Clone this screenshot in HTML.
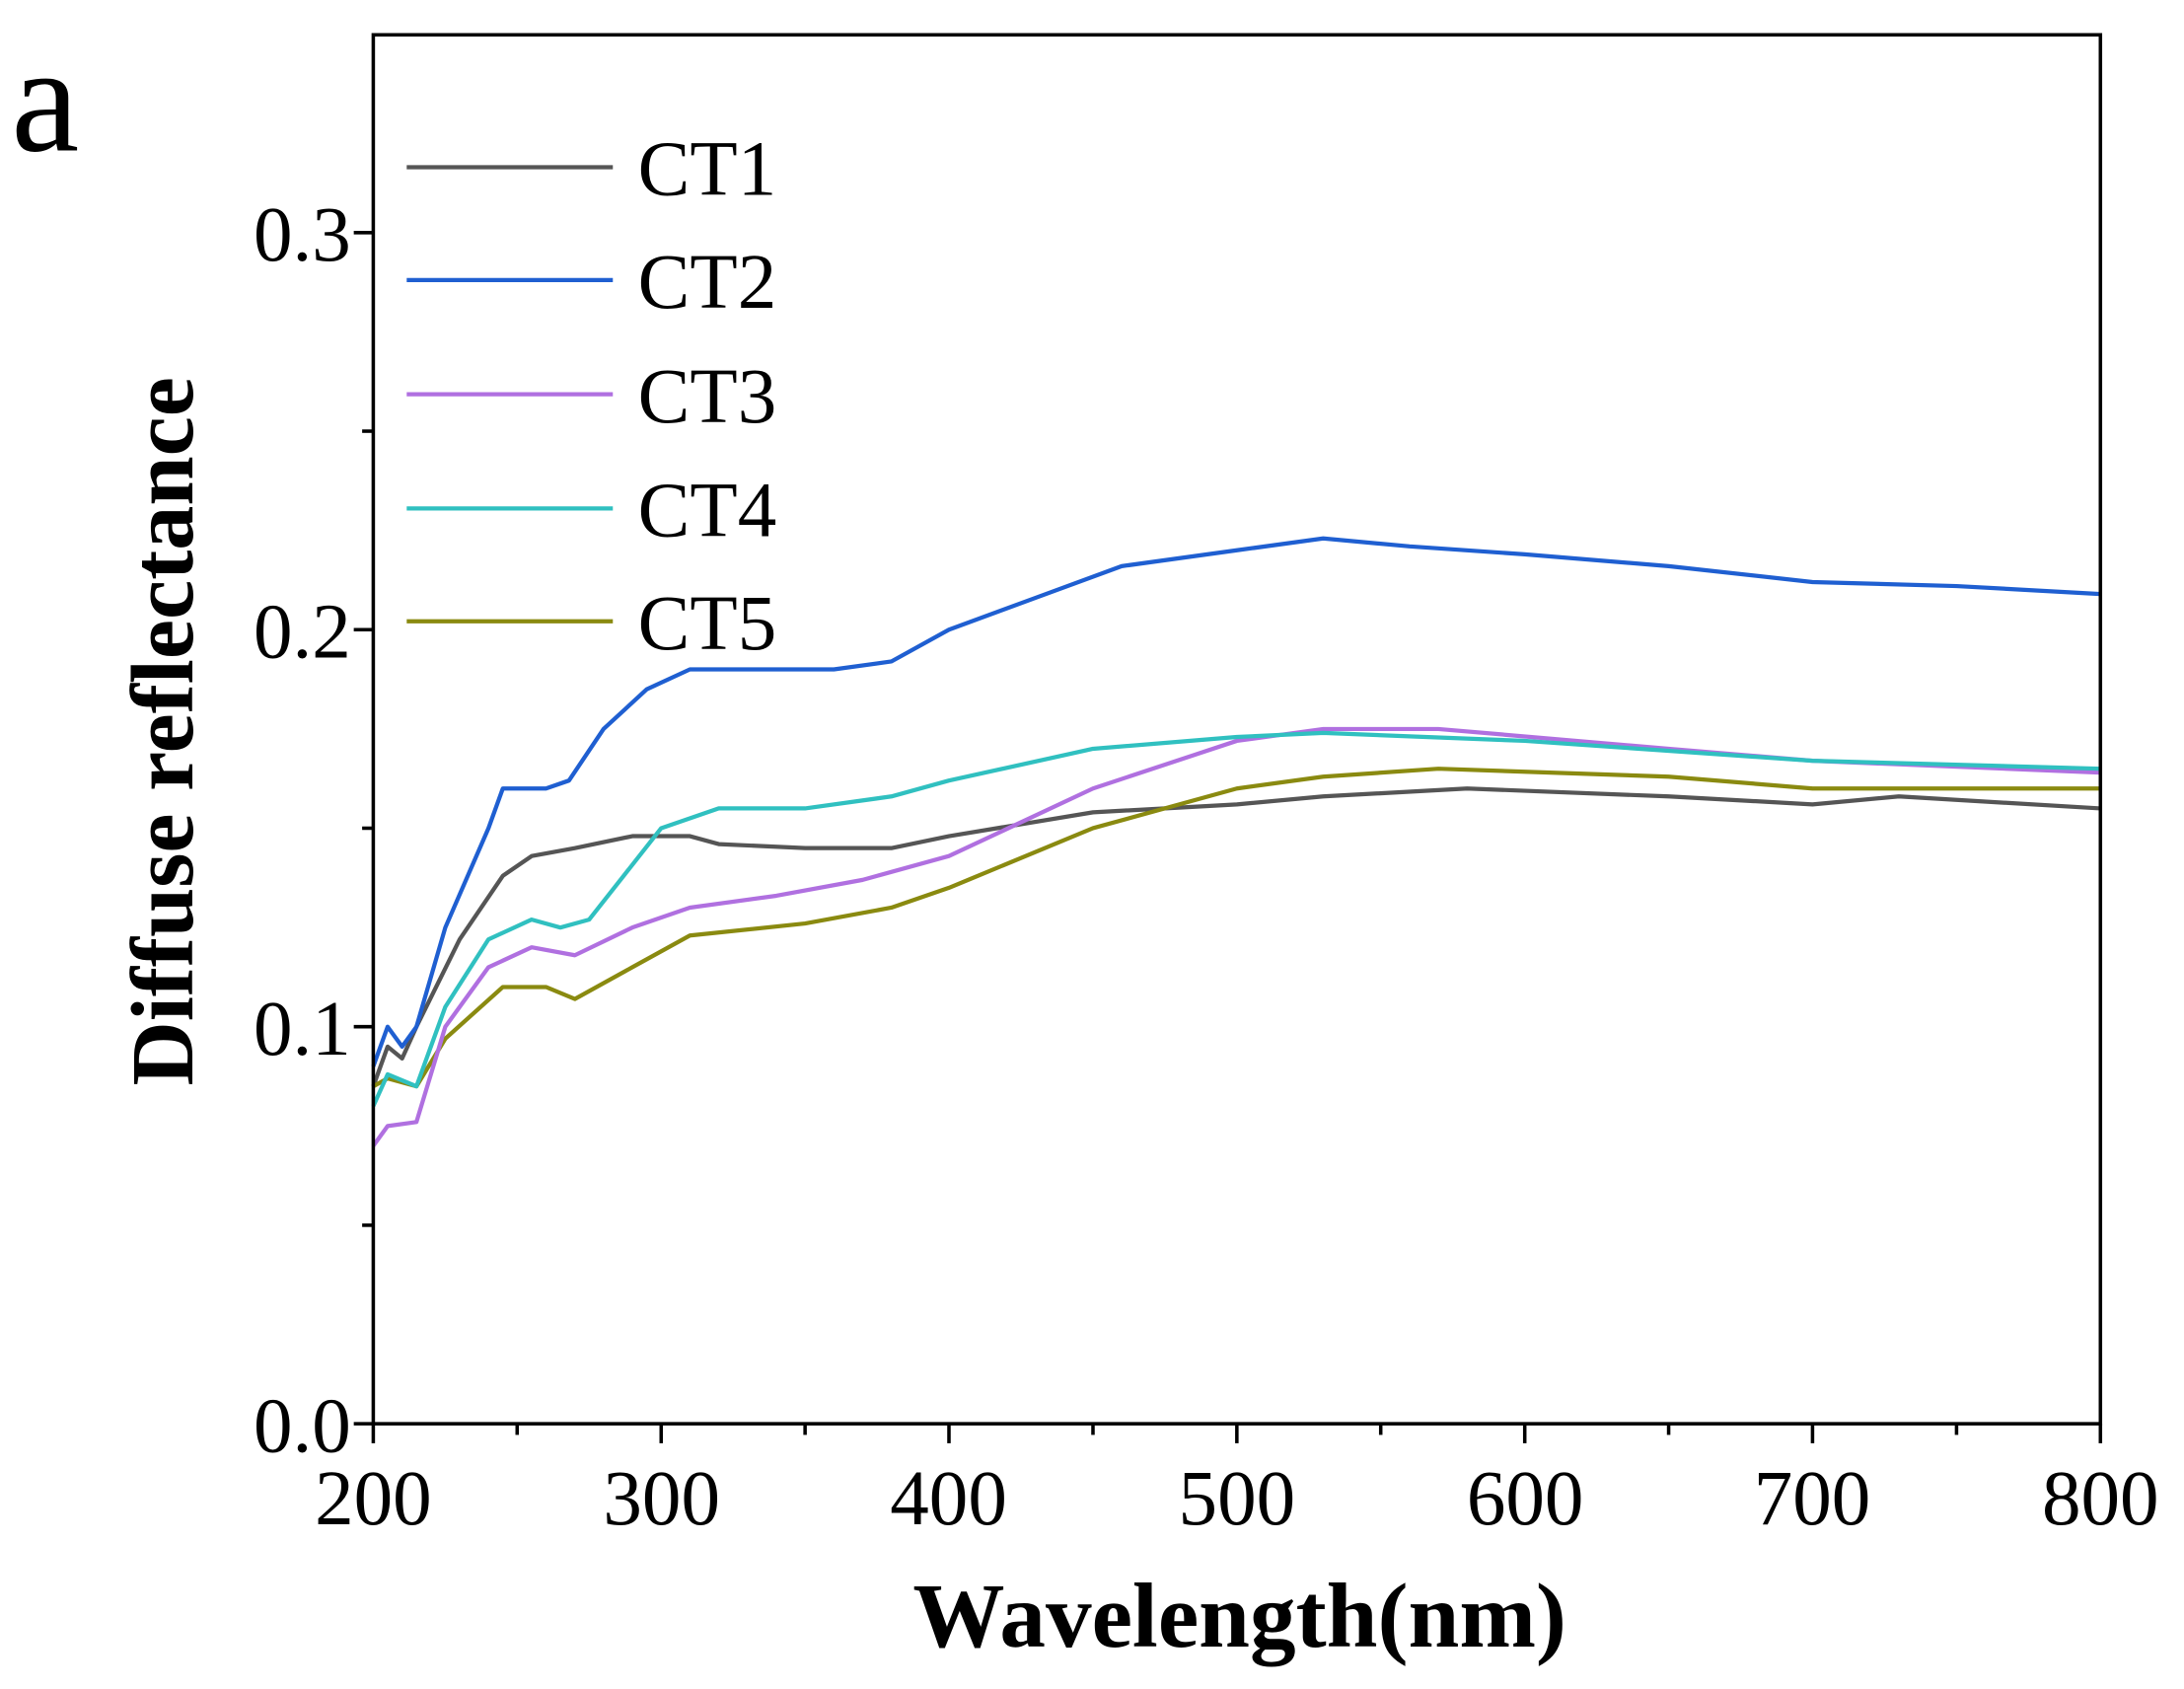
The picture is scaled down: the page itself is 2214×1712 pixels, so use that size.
<!DOCTYPE html>
<html><head><meta charset="utf-8"><style>html,body{margin:0;padding:0;background:#fff}svg{display:block}</style></head>
<body>
<svg width="2214" height="1712" viewBox="0 0 1568 1212.4" preserveAspectRatio="none" xmlns="http://www.w3.org/2000/svg" font-family="Liberation Serif, serif">
<rect width="1568" height="1212.4" fill="#fff"/>
<g fill="none" stroke-width="3" stroke-linejoin="round">
<polyline stroke="#555" points="268,779.8 278.3,751.3 288.7,759.8 299,737 330,674.3 361,628.7 381.7,614.5 412.7,608.8 454,600.2 495.3,600.2 516,605.9 578,608.8 640,608.8 681.3,600.2 784.7,583.1 888,577.4 950,571.7 1053.3,566 1198,571.7 1301.3,577.4 1363.3,571.7 1508,580.3"/>
<polyline stroke="#8a8a10" points="268,779.8 278.3,774.1 299,779.8 319.7,745.6 361,708.5 392,708.5 412.7,717.1 454,694.3 495.3,671.5 578,662.9 640,651.5 681.3,637.3 784.7,594.5 888,566 950,557.5 1032.7,551.8 1198,557.5 1301.3,566 1508,566"/>
<polyline stroke="#b070e0" points="268,822.5 278.3,808.3 299,805.4 319.7,737 350.7,694.3 381.7,680 412.7,685.7 454,665.8 495.3,651.5 557.3,643 619.3,631.6 681.3,614.5 784.7,566 888,531.8 950,523.3 1032.7,523.3 1198,537.5 1301.3,546.1 1508,554.6"/>
<polyline stroke="#30c0c0" points="268,794 278.3,771.2 299,779.8 319.7,722.8 350.7,674.3 381.7,660.1 402.3,665.8 423,660.1 474.7,594.5 516,580.3 578,580.3 640,571.7 681.3,560.3 784.7,537.5 888,529 950,526.1 1094.7,531.8 1301.3,546.1 1508,551.8"/>
<polyline stroke="#1f5fd1" points="268,765.5 278.3,737 288.7,751.3 299,737 319.7,665.8 350.7,594.5 361,566 392,566 408.5,560.3 433.3,523.3 464.3,494.8 495.3,480.5 536.7,480.5 598.7,480.5 640,474.8 681.3,452 743.3,429.2 805.3,406.4 888,395 950,386.5 1012,392.2 1094.7,397.9 1198,406.4 1301.3,417.8 1404.7,420.7 1508,426.4"/>
</g>
<rect x="268" y="25" width="1240" height="997" fill="none" stroke="#000" stroke-width="2.5"/>
<g stroke="#000" stroke-width="2.5">
<line x1="268" y1="1022" x2="268" y2="1036"/><line x1="371.3" y1="1022" x2="371.3" y2="1030"/>
<line x1="474.7" y1="1022" x2="474.7" y2="1036"/><line x1="578" y1="1022" x2="578" y2="1030"/>
<line x1="681.3" y1="1022" x2="681.3" y2="1036"/><line x1="784.7" y1="1022" x2="784.7" y2="1030"/>
<line x1="888" y1="1022" x2="888" y2="1036"/><line x1="991.3" y1="1022" x2="991.3" y2="1030"/>
<line x1="1094.7" y1="1022" x2="1094.7" y2="1036"/><line x1="1198" y1="1022" x2="1198" y2="1030"/>
<line x1="1301.3" y1="1022" x2="1301.3" y2="1036"/><line x1="1404.7" y1="1022" x2="1404.7" y2="1030"/>
<line x1="1508" y1="1022" x2="1508" y2="1036"/>
<line x1="254" y1="1022" x2="268" y2="1022"/><line x1="260" y1="879.5" x2="268" y2="879.5"/>
<line x1="254" y1="737" x2="268" y2="737"/><line x1="260" y1="594.5" x2="268" y2="594.5"/>
<line x1="254" y1="452" x2="268" y2="452"/><line x1="260" y1="309.5" x2="268" y2="309.5"/>
<line x1="254" y1="167" x2="268" y2="167"/>
</g>
<g font-size="56" text-anchor="end">
<text x="252" y="1042">0.0</text><text x="252" y="757">0.1</text><text x="252" y="472">0.2</text><text x="252" y="187">0.3</text>
</g>
<g font-size="56" text-anchor="middle">
<text x="268" y="1094">200</text><text x="475" y="1094">300</text><text x="681" y="1094">400</text><text x="888" y="1094">500</text><text x="1095" y="1094">600</text><text x="1301" y="1094">700</text><text x="1508" y="1094">800</text>
</g>
<text x="890" y="1182" font-size="66" font-weight="bold" text-anchor="middle">Wavelength(nm)</text>
<text transform="translate(138,525) rotate(-90)" font-size="64" font-weight="bold" text-anchor="middle">Diffuse reflectance</text>
<text x="8" y="108" font-size="110">a</text>
<g font-size="56">
<line x1="292" y1="120" x2="440" y2="120" stroke="#555" stroke-width="3"/><text x="458" y="140">CT1</text>
<line x1="292" y1="201" x2="440" y2="201" stroke="#1f5fd1" stroke-width="3"/><text x="458" y="221">CT2</text>
<line x1="292" y1="283" x2="440" y2="283" stroke="#b070e0" stroke-width="3"/><text x="458" y="303">CT3</text>
<line x1="292" y1="365" x2="440" y2="365" stroke="#30c0c0" stroke-width="3"/><text x="458" y="385">CT4</text>
<line x1="292" y1="446" x2="440" y2="446" stroke="#8a8a10" stroke-width="3"/><text x="458" y="466">CT5</text>
</g>
</svg>
</body></html>
